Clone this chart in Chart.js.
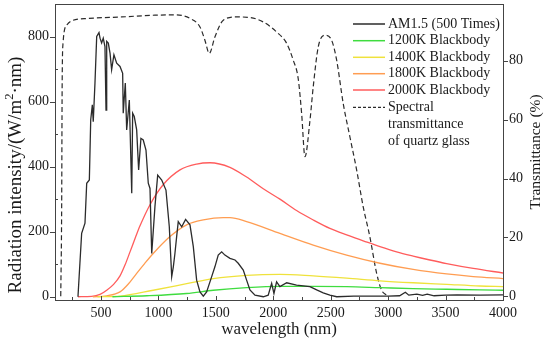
<!DOCTYPE html>
<html>
<head>
<meta charset="utf-8">
<script src="https://cdn.jsdelivr.net/npm/chart.js@4.4.1/dist/chart.umd.min.js"></script>
<style>
  body { margin: 0; background: #fff; }
  #wrap { width: 550px; height: 346px; position: relative; }
</style>
</head>
<body>
<div id="wrap"><canvas id="spectrumChart"></canvas></div>
<script>
// values: [wavelength nm, value]
const am15 = [[300,0],[332,195],[361,226],[376,349],[399,359],[411,544],[425,590],[433,538],[448,657],[463,800],[483,812],[492,795],[506,780],[520,795],[535,769],[544,574],[550,785],[564,780],[579,749],[593,698],[613,744],[637,718],[666,708],[689,687],[694,564],[712,657],[724,513],[747,605],[768,318],[776,564],[790,554],[811,513],[828,390],[848,487],[868,482],[892,451],[912,349],[927,333],[942,133],[970,277],[994,374],[1029,359],[1066,328],[1095,215],[1116,62],[1130,92],[1144,133],[1159,185],[1173,231],[1203,215],[1237,238],[1275,221],[1304,154],[1333,51],[1362,15],[1391,2],[1420,15],[1464,62],[1492,92],[1521,128],[1551,138],[1579,128],[1623,118],[1667,113],[1695,103],[1739,82],[1768,51],[1797,21],[1841,5],[1913,0],[1956,5],[1986,41],[2006,10],[2029,46],[2058,31],[2117,43],[2203,36],[2319,31],[2378,21],[2435,12],[2493,5],[2552,0],[2700,2],[2850,2],[3000,2],[3100,3],[3150,14],[3180,5],[3250,8],[3300,4],[3340,8],[3400,3],[3500,5],[3600,6],[3800,5],[4000,6]];

const bb1200 = [[600,0],[900,3],[1246,10],[1478,20],[1768,28],[2058,32],[2348,32],[2639,31],[2929,28],[3218,25],[3509,23],[3799,21],[4000,20]];
const bb1400 = [[470,0],[666,2],[955,20],[1246,40],[1478,56],[1768,66],[2058,69],[2348,64],[2639,57],[2929,49],[3218,43],[3509,38],[3799,33],[4000,31]];
const bb1800 = [[430,0],[550,3],[666,15],[740,40],[811,72],[880,102],[955,133],[1101,185],[1246,221],[1391,236],[1565,243],[1623,243],[1768,231],[2058,195],[2348,159],[2639,128],[2929,103],[3218,84],[3509,70],[3741,62],[4000,56]];
const bb2000 = [[300,0],[420,1],[492,7],[550,20],[610,38],[666,64],[710,98],[753,138],[800,182],[840,218],[927,283],[1043,345],[1188,390],[1333,408],[1449,412],[1623,398],[1768,368],[1913,332],[2058,300],[2203,265],[2348,236],[2493,210],[2639,190],[2783,172],[2929,154],[3074,138],[3218,125],[3364,113],[3509,102],[3741,87],[4000,73]];

// transmittance of quartz glass, percent
const quartzT = [[150,0],[158,30],[162,70],[170,86],[202,92.1],[245,93.6],[387,94.4],[680,94.9],[970,95.5],[1150,95.6],[1275,94.4],[1362,91.5],[1405,87],[1443,82.5],[1492,88.1],[1565,93.8],[1681,94.9],[1797,94.7],[1913,93.2],[2029,89.8],[2117,85.9],[2174,80.2],[2217,74],[2247,62.1],[2276,47.4],[2320,59.9],[2348,71.2],[2392,84.8],[2450,88.7],[2508,87],[2552,80.2],[2609,65.5],[2667,54.2],[2726,42.9],[2783,30.4],[2841,20.2],[2900,7.8],[2943,2.1],[2987,0.4]];

const seriesNames = ['AM1.5 (500 Times)', '1200K Blackbody', '1400K Blackbody', '1800K Blackbody', '2000K Blackbody'];
const seriesColors = ['#2b2b2b', '#3fdc3f', '#efe23c', '#ff9d52', '#ff5c5c'];
const xTicks = [500, 1000, 1500, 2000, 2500, 3000, 3500, 4000];

const SERIF = "'Liberation Serif', 'DejaVu Serif', serif";
Chart.defaults.font.family = SERIF;
Chart.defaults.font.size = 14;
Chart.defaults.color = '#1a1a1a';

const toXY = arr => arr.map(p => ({x: p[0], y: p[1]}));

function lineSet(label, arr, color, smooth) {
    return {
        label: label,
        data: toXY(arr),
        borderColor: color,
        borderWidth: 1.3,
        pointRadius: 0,
        fill: false,
        yAxisID: 'y',
        cubicInterpolationMode: smooth ? 'monotone' : 'default',
        tension: 0
    };
}

// fixed box sizes so the plot area sits where it does in the figure
function fixBox(size, horizontal) {
    return s => {
        if (horizontal) { s.height = size; s.paddingLeft = 0; s.paddingRight = 0; }
        else { s.width = size; s.paddingTop = 0; s.paddingBottom = 0; }
    };
}

// ticks, frame, legend and axis titles
const decorPlugin = {
    id: 'decor',
    afterDraw(chart) {
        const ctx = chart.ctx;
        const a = chart.chartArea;
        const sx = chart.scales.x, sy = chart.scales.y, sy2 = chart.scales.y2;
        ctx.save();
        ctx.strokeStyle = '#444';
        ctx.lineWidth = 1;

        // top frame line
        ctx.beginPath();
        ctx.moveTo(a.left, a.top + 0.5);
        ctx.lineTo(a.right, a.top + 0.5);
        ctx.stroke();

        ctx.beginPath();
        // bottom axis: ticks pointing inward
        for (let v = 250; v <= 4000; v += 250) {
            const px = Math.round(sx.getPixelForValue(v)) + 0.5;
            const len = (v % 500 === 0) ? 4 : 3;
            ctx.moveTo(px, a.bottom);
            ctx.lineTo(px, a.bottom - len);
        }
        // left axis: major outward, minor inward
        for (let v = 0; v <= 800; v += 100) {
            const py = Math.round(sy.getPixelForValue(v)) + 0.5;
            ctx.moveTo(a.left, py);
            ctx.lineTo(v % 200 === 0 ? a.left - 5 : a.left + 3, py);
        }
        // right axis: major outward
        for (let v = 0; v <= 80; v += 20) {
            const py = Math.round(sy2.getPixelForValue(v)) + 0.5;
            ctx.moveTo(a.right, py);
            ctx.lineTo(a.right + 5, py);
        }
        ctx.stroke();

        // legend
        const lx = 353, lw = 32, rowY = [24, 40.7, 57.3, 73.7, 90];
        ctx.font = '14px ' + SERIF;
        ctx.fillStyle = '#1a1a1a';
        ctx.textBaseline = 'middle';
        ctx.textAlign = 'left';
        seriesNames.forEach((name, i) => {
            ctx.strokeStyle = seriesColors[i];
            ctx.lineWidth = 1.5;
            ctx.beginPath();
            ctx.moveTo(lx, rowY[i]);
            ctx.lineTo(lx + lw, rowY[i]);
            ctx.stroke();
            ctx.fillText(name, lx + lw + 3, rowY[i]);
        });
        ctx.strokeStyle = '#2b2b2b';
        ctx.lineWidth = 1.3;
        ctx.setLineDash([3, 2]);
        ctx.beginPath();
        ctx.moveTo(lx, 107.3);
        ctx.lineTo(lx + lw, 107.3);
        ctx.stroke();
        ctx.setLineDash([]);
        ctx.fillText('Spectral', lx + lw + 3, 107.3);
        ctx.fillText('transmittance', lx + lw + 3, 124);
        ctx.fillText('of quartz glass', lx + lw + 3, 141.7);

        // axis titles
        ctx.textAlign = 'center';
        ctx.font = '17px ' + SERIF;
        ctx.fillText('wavelength (nm)', (a.left + a.right) / 2, 330);

        ctx.save();
        ctx.translate(536, 152);
        ctx.rotate(-Math.PI / 2);
        ctx.font = '15.5px ' + SERIF;
        ctx.fillText('Transmittance (%)', 0, 0);
        ctx.restore();

        // left title with superscript 2
        ctx.save();
        ctx.translate(16, 175);
        ctx.rotate(-Math.PI / 2);
        ctx.textAlign = 'left';
        const big = '19px ' + SERIF, small = '12.5px ' + SERIF;
        const t1 = 'Radiation intensity/(W/m', t2 = '2', t3 = '\u00b7nm)';
        ctx.font = big;
        const w1 = ctx.measureText(t1).width, w3 = ctx.measureText(t3).width;
        ctx.font = small;
        const w2 = ctx.measureText(t2).width;
        const x0 = -(w1 + w2 + w3) / 2;
        ctx.font = big;
        ctx.fillText(t1, x0, 0);
        ctx.font = small;
        ctx.fillText(t2, x0 + w1, -6);
        ctx.font = big;
        ctx.fillText(t3, x0 + w1 + w2, 0);
        ctx.restore();

        ctx.restore();
    }
};

const plain = v => String(v);

const ctx = document.getElementById('spectrumChart').getContext('2d');
new Chart(ctx, {
    type: 'line',
    data: {
        datasets: [
            lineSet(seriesNames[0], am15, seriesColors[0], false),
            lineSet(seriesNames[1], bb1200, seriesColors[1], true),
            lineSet(seriesNames[2], bb1400, seriesColors[2], true),
            lineSet(seriesNames[3], bb1800, seriesColors[3], true),
            lineSet(seriesNames[4], bb2000, seriesColors[4], true),
            {
                label: 'Spectral transmittance of quartz glass',
                data: toXY(quartzT),
                borderColor: '#2b2b2b',
                borderWidth: 1.2,
                borderDash: [5, 3],
                pointRadius: 0,
                fill: false,
                yAxisID: 'y2',
                cubicInterpolationMode: 'monotone'
            }
        ]
    },
    options: {
        responsive: true,
        maintainAspectRatio: false,
        animation: false,
        layout: { padding: { top: 4, left: 0, right: 0, bottom: 0 } },
        plugins: { legend: { display: false }, tooltip: { enabled: false } },
        scales: {
            x: {
                type: 'linear',
                min: 100,
                max: 4000,
                afterFit: fixBox(46, true),
                afterBuildTicks: s => { s.ticks = xTicks.map(v => ({value: v})); },
                grid: { display: false, drawTicks: false },
                border: { display: true, color: '#444', width: 1 },
                ticks: { padding: 5, maxRotation: 0, callback: plain, font: { family: SERIF, size: 14 } }
            },
            y: {
                position: 'left',
                min: -10,
                max: 900,
                afterFit: fixBox(55, false),
                grid: { display: false, drawTicks: false },
                border: { display: true, color: '#444', width: 1 },
                ticks: { stepSize: 200, includeBounds: false, padding: 6, callback: plain, font: { family: SERIF, size: 14 } }
            },
            y2: {
                position: 'right',
                min: -1.26,
                max: 99.3,
                afterFit: fixBox(47, false),
                grid: { display: false, drawTicks: false },
                border: { display: true, color: '#444', width: 1 },
                ticks: { stepSize: 20, includeBounds: false, padding: 6, callback: plain, font: { family: SERIF, size: 14 } }
            }
        }
    },
    plugins: [decorPlugin]
});
</script>
</body>
</html>
